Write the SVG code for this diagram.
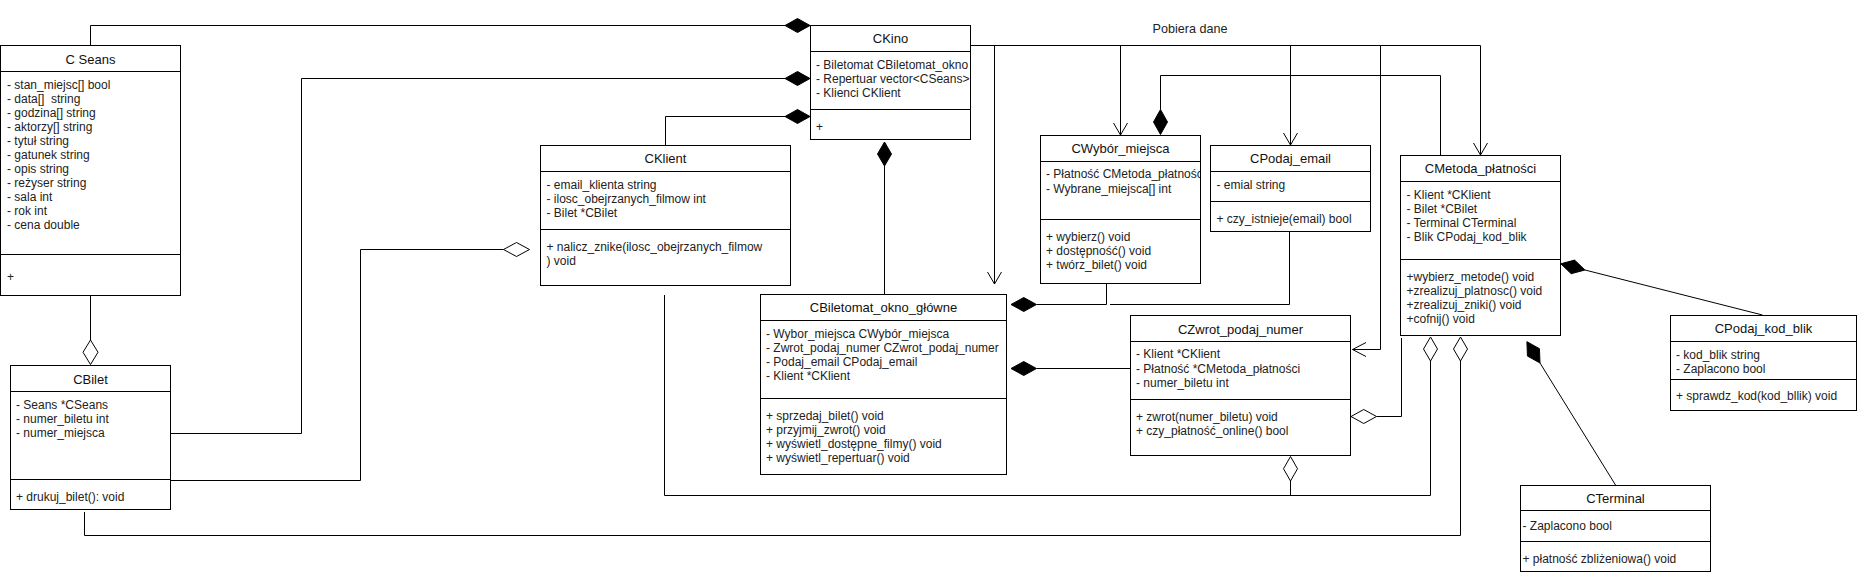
<svg xmlns="http://www.w3.org/2000/svg" width="1858" height="575" viewBox="0 0 1858 575">
<style>
.box{fill:#fff;stroke:#000;stroke-width:1}
.sep{stroke:#000;stroke-width:1;fill:none}
.t{font-family:"Liberation Sans",Arial,sans-serif;font-size:12px;fill:#222;white-space:pre}
.ti{font-family:"Liberation Sans",Arial,sans-serif;font-size:13px;fill:#111;text-anchor:middle}
.ln{fill:none;stroke:#000;stroke-width:1}
.fd{fill:#000;stroke:#000;stroke-width:1}
.hd{fill:#fff;stroke:#000;stroke-width:1}
</style>
<defs>
<clipPath id="cpKino"><rect x="811" y="52" width="159" height="57"/></clipPath>
<clipPath id="cpWyb"><rect x="1041" y="162" width="159" height="57"/></clipPath>
</defs>
<rect width="1858" height="575" fill="#fff"/>

<g id="connectors">
<path class="ln" d="M90.5,45 V25.5 H785"/>
<polygon class="fd" points="785,25.5 797.5,18.5 810,25.5 797.5,32.5"/>
<path class="ln" d="M170.5,433.5 H301.5 V78.5 H785"/>
<polygon class="fd" points="785,78.5 797.5,71.5 810,78.5 797.5,85.5"/>
<path class="ln" d="M665.5,145.5 V116.5 H785"/>
<polygon class="fd" points="785,116.5 797.5,109.5 810,116.5 797.5,123.5"/>
<path class="ln" d="M170.5,480.5 H360.5 V249.5 H503.5"/>
<polygon class="hd" points="503.5,249.5 516.5,242.5 529.5,249.5 516.5,256.5"/>
<path class="ln" d="M90.5,295.5 V340"/>
<polygon class="hd" points="90.5,340 98,352.25 90.5,364.5 83,352.25"/>
<path class="ln" d="M884.5,166 V294.5"/>
<polygon class="fd" points="884.5,142 891.5,154 884.5,166 877.5,154"/>
<path class="ln" d="M970.5,45.5 H1480.5 V155"/>
<polyline class="ln" points="1473.5,143 1480.5,155 1487.5,143"/>
<path class="ln" d="M994.5,45.5 V284"/>
<polyline class="ln" points="987.5,272 994.5,284 1001.5,272"/>
<path class="ln" d="M1120.5,45.5 V135"/>
<polyline class="ln" points="1113.5,123 1120.5,135 1127.5,123"/>
<path class="ln" d="M1290.5,45.5 V145"/>
<polyline class="ln" points="1283.5,133 1290.5,145 1297.5,133"/>
<path class="ln" d="M1380.5,45.5 V349.5 H1352.5"/>
<polyline class="ln" points="1366,342.5 1352.5,349.5 1366,356.5"/>
<path class="ln" d="M1160.5,109.5 V75.5 H1440.5 V155.5"/>
<polygon class="fd" points="1160.5,109.5 1167.5,122 1160.5,134.5 1153.5,122"/>
<path class="ln" d="M1106.5,284 V304.5 H1036.5"/>
<polygon class="fd" points="1011,304.5 1023.75,297.5 1036.5,304.5 1023.75,311.5"/>
<path class="ln" d="M1289.5,231.5 V304.5 H1110"/>
<path class="ln" d="M1130.5,368.5 H1036.5"/>
<polygon class="fd" points="1011,368.5 1023.75,361.5 1036.5,368.5 1023.75,375.5"/>
<path class="ln" d="M1401.5,338 V416.5 H1376.5"/>
<polygon class="hd" points="1351,416.5 1363.75,409.5 1376.5,416.5 1363.75,423.5"/>
<path class="ln" d="M664.5,295 V495.5 H1430.5 V361"/>
<polygon class="hd" points="1430.5,337 1437.5,349 1430.5,361 1423.5,349"/>
<path class="ln" d="M1290.5,481 V495.5"/>
<polygon class="hd" points="1290.5,456.5 1297.5,468.75 1290.5,481 1283.5,468.75"/>
<path class="ln" d="M84.5,512 V535.5 H1460.5 V361"/>
<polygon class="hd" points="1460.5,337 1467.5,349 1460.5,361 1453.5,349"/>
<path class="ln" d="M1762.5,315 L1585,270"/>
<polygon class="fd" points="1560.8,263.8 1574.6,260.1 1585,270 1571.2,273.7"/>
<path class="ln" d="M1615.5,485 L1540,363"/>
<polygon class="fd" points="1526.9,341.7 1539.45,348.65 1540,363 1527.45,356.05"/>
<text class="t" x="1190" y="33" text-anchor="middle" style="font-size:12.6px">Pobiera dane</text>
</g>

<g id="CSeans">
<rect class="box" x="0.5" y="45.5" width="180" height="250"/>
<path class="sep" d="M0.5,71.5 H180.5 M0.5,254.5 H180.5"/>
<text class="ti" x="90.5" y="63.6">C Seans</text>
<text class="t" x="7" y="89.3">- stan_miejsc[] bool</text>
<text class="t" x="7" y="103.3">- data[]  string</text>
<text class="t" x="7" y="117.3">- godzina[] string</text>
<text class="t" x="7" y="131.3">- aktorzy[] string</text>
<text class="t" x="7" y="145.3">- tytuł string</text>
<text class="t" x="7" y="159.3">- gatunek string</text>
<text class="t" x="7" y="173.3">- opis string</text>
<text class="t" x="7" y="187.3">- reżyser string</text>
<text class="t" x="7" y="201.3">- sala int</text>
<text class="t" x="7" y="215.3">- rok int</text>
<text class="t" x="7" y="229.3">- cena double</text>
<text class="t" x="7" y="281.3">+</text>
</g>

<g id="CKino">
<rect class="box" x="810.5" y="25.5" width="160" height="114"/>
<path class="sep" d="M810.5,51.5 H970.5 M810.5,109.5 H970.5"/>
<text class="ti" x="890.5" y="42.6">CKino</text>
<g clip-path="url(#cpKino)">
<text class="t" x="816" y="68.6">- Biletomat CBiletomat_okno</text>
<text class="t" x="816" y="83.3">- Repertuar vector&lt;CSeans&gt;</text>
<text class="t" x="816" y="97">- Klienci CKlient</text>
</g>
<text class="t" x="816" y="131">+</text>
</g>

<g id="CKlient">
<rect class="box" x="540.5" y="145.5" width="250" height="140"/>
<path class="sep" d="M540.5,171.5 H790.5 M540.5,229.5 H790.5"/>
<text class="ti" x="665.5" y="163">CKlient</text>
<text class="t" x="546.5" y="188.6">- email_klienta string</text>
<text class="t" x="546.5" y="202.6">- ilosc_obejrzanych_filmow int</text>
<text class="t" x="546.5" y="216.6">- Bilet *CBilet</text>
<text class="t" x="546.5" y="251">+ nalicz_znike(ilosc_obejrzanych_filmow</text>
<text class="t" x="546.5" y="265">) void</text>
</g>

<g id="CBilet">
<rect class="box" x="10.5" y="365.5" width="160" height="144"/>
<path class="sep" d="M10.5,391.5 H170.5 M10.5,479.5 H170.5"/>
<text class="ti" x="90.5" y="383.6">CBilet</text>
<text class="t" x="16" y="409.3">- Seans *CSeans</text>
<text class="t" x="16" y="423">- numer_biletu int</text>
<text class="t" x="16" y="437">- numer_miejsca</text>
<text class="t" x="16" y="501">+ drukuj_bilet(): void</text>
</g>

<g id="CBiletomat_okno_glowne">
<rect class="box" x="760.5" y="294.5" width="246" height="180"/>
<path class="sep" d="M760.5,320.5 H1006.5 M760.5,398.5 H1006.5"/>
<text class="ti" x="883.5" y="312">CBiletomat_okno_główne</text>
<text class="t" x="766" y="337.6">- Wybor_miejsca CWybór_miejsca</text>
<text class="t" x="766" y="352">- Zwrot_podaj_numer CZwrot_podaj_numer</text>
<text class="t" x="766" y="366">- Podaj_email CPodaj_email</text>
<text class="t" x="766" y="380">- Klient *CKlient</text>
<text class="t" x="766" y="420">+ sprzedaj_bilet() void</text>
<text class="t" x="766" y="434">+ przyjmij_zwrot() void</text>
<text class="t" x="766" y="448">+ wyświetl_dostępne_filmy() void</text>
<text class="t" x="766" y="462">+ wyświetl_repertuar() void</text>
</g>

<g id="CWybor_miejsca">
<rect class="box" x="1040.5" y="135.5" width="160" height="148"/>
<path class="sep" d="M1040.5,161.5 H1200.5 M1040.5,219.5 H1200.5"/>
<text class="ti" x="1120.5" y="153">CWybór_miejsca</text>
<g clip-path="url(#cpWyb)">
<text class="t" x="1046" y="178.3">- Płatność CMetoda_płatności</text>
<text class="t" x="1046" y="192.6">- Wybrane_miejsca[] int</text>
</g>
<text class="t" x="1046" y="241">+ wybierz() void</text>
<text class="t" x="1046" y="255">+ dostępność() void</text>
<text class="t" x="1046" y="268.6">+ twórz_bilet() void</text>
</g>

<g id="CPodaj_email">
<rect class="box" x="1210.5" y="145.5" width="160" height="86"/>
<path class="sep" d="M1210.5,171.5 H1370.5 M1210.5,201.5 H1370.5"/>
<text class="ti" x="1290.5" y="163.3">CPodaj_email</text>
<text class="t" x="1216.5" y="188.6">- emial string</text>
<text class="t" x="1216.5" y="223.3">+ czy_istnieje(email) bool</text>
</g>

<g id="CMetoda_platnosci">
<rect class="box" x="1400.5" y="155.5" width="160" height="180"/>
<path class="sep" d="M1400.5,181.5 H1560.5 M1400.5,259.5 H1560.5"/>
<text class="ti" x="1480.5" y="173.3">CMetoda_płatności</text>
<text class="t" x="1406.5" y="199">- Klient *CKlient</text>
<text class="t" x="1406.5" y="213">- Bilet *CBilet</text>
<text class="t" x="1406.5" y="227">- Terminal CTerminal</text>
<text class="t" x="1406.5" y="241">- Blik CPodaj_kod_blik</text>
<text class="t" x="1406.5" y="281">+wybierz_metode() void</text>
<text class="t" x="1406.5" y="295">+zrealizuj_platnosc() void</text>
<text class="t" x="1406.5" y="309">+zrealizuj_zniki() void</text>
<text class="t" x="1406.5" y="323">+cofnij() void</text>
</g>

<g id="CZwrot_podaj_numer">
<rect class="box" x="1130.5" y="315.5" width="220" height="140"/>
<path class="sep" d="M1130.5,341.5 H1350.5 M1130.5,399.5 H1350.5"/>
<text class="ti" x="1240.5" y="333.6">CZwrot_podaj_numer</text>
<text class="t" x="1136" y="358.3">- Klient *CKlient</text>
<text class="t" x="1136" y="372.6">- Płatność *CMetoda_płatności</text>
<text class="t" x="1136" y="386.6">- numer_biletu int</text>
<text class="t" x="1136" y="421">+ zwrot(numer_biletu) void</text>
<text class="t" x="1136" y="435">+ czy_płatność_online() bool</text>
</g>

<g id="CPodaj_kod_blik">
<rect class="box" x="1670.5" y="315.5" width="186" height="95"/>
<path class="sep" d="M1670.5,341.5 H1856.5 M1670.5,379.5 H1856.5"/>
<text class="ti" x="1763.5" y="333.3">CPodaj_kod_blik</text>
<text class="t" x="1676" y="359">- kod_blik string</text>
<text class="t" x="1676" y="373">- Zaplacono bool</text>
<text class="t" x="1676" y="400.3">+ sprawdz_kod(kod_bllik) void</text>
</g>

<g id="CTerminal">
<rect class="box" x="1520.5" y="485.5" width="190" height="86"/>
<path class="sep" d="M1520.5,510.5 H1710.5 M1520.5,541.5 H1710.5"/>
<text class="ti" x="1615.5" y="502.6">CTerminal</text>
<text class="t" x="1522.5" y="529.6">- Zaplacono bool</text>
<text class="t" x="1522.5" y="563.3">+ płatność zbliżeniowa() void</text>
</g>
</svg>
